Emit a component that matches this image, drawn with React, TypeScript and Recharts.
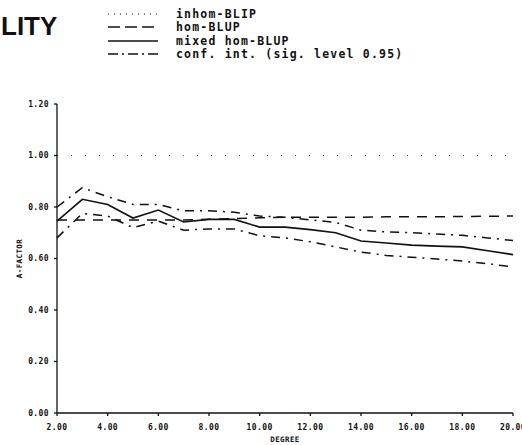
import React from 'react'
import { LineChart, Line, XAxis, YAxis, Label } from 'recharts'

const degrees = [2, 3, 4, 5, 6, 7, 8, 9, 10, 11, 12, 13, 14, 15, 16, 17, 18, 19, 20]
const inhomBlip = [1.0, 1.0, 1.0, 1.0, 1.0, 1.0, 1.0, 1.0, 1.0, 1.0, 1.0, 1.0, 1.0, 1.0, 1.0, 1.0, 1.0, 1.0, 1.0]
const homBlup = [0.75, 0.75, 0.75, 0.75, 0.75, 0.75, 0.752, 0.755, 0.758, 0.76, 0.76, 0.76, 0.76, 0.762, 0.762, 0.762, 0.763, 0.764, 0.765]
const mixedHomBlup = [0.745, 0.83, 0.81, 0.757, 0.788, 0.742, 0.752, 0.752, 0.722, 0.722, 0.712, 0.7, 0.668, 0.66, 0.652, 0.648, 0.645, 0.63, 0.615]
const confUpper = [0.8, 0.875, 0.84, 0.81, 0.81, 0.785, 0.785, 0.78, 0.765, 0.76, 0.75, 0.74, 0.71, 0.703, 0.7, 0.695, 0.69, 0.68, 0.67]
const confLower = [0.68, 0.775, 0.765, 0.72, 0.745, 0.71, 0.715, 0.715, 0.688, 0.68, 0.665, 0.645, 0.625, 0.612, 0.605, 0.598, 0.59, 0.58, 0.567]
const xTicks = [2, 4, 6, 8, 10, 12, 14, 16, 18, 20]
const yTicks = [0, 0.2, 0.4, 0.6, 0.8, 1.0, 1.2]

const data = degrees.map((d, i) => ({
  degree: d,
  inhom: inhomBlip[i],
  hom: homBlup[i],
  mixed: mixedHomBlup[i],
  upper: confUpper[i],
  lower: confLower[i],
}))

const LEGEND = [
  { label: 'inhom-BLIP', dash: '1 5', width: 1 },
  { label: 'hom-BLUP', dash: '12 5', width: 1.6 },
  { label: 'mixed hom-BLUP', dash: undefined, width: 1.6 },
  { label: 'conf. int. (sig. level 0.95)', dash: '10 4 2 4', width: 1.6 },
]

const tickFont = { fontFamily: 'DejaVu Sans Mono', fontSize: 8, fontWeight: 700, fill: '#111', letterSpacing: 0.4 }

export default function App() {
  return (
    <div style={{ position: 'absolute', left: 0, top: 0, width: 522, height: 445, background: '#fff' }}>
      <div
        style={{
          position: 'absolute',
          left: 1,
          top: 11,
          fontFamily: 'Liberation Sans',
          fontWeight: 700,
          fontSize: 26,
          color: '#111',
          lineHeight: '30px',
        }}
      >
        LITY
      </div>

      <div style={{ position: 'absolute', left: 108, top: 7 }}>
        {LEGEND.map((item) => (
          <div key={item.label} style={{ display: 'flex', alignItems: 'center', height: 13.5 }}>
            <svg width={52} height={8}>
              <line
                x1={0}
                y1={4}
                x2={50}
                y2={4}
                stroke="#111"
                strokeWidth={item.width}
                strokeDasharray={item.dash}
              />
            </svg>
            <span
              style={{
                marginLeft: 16,
                fontFamily: 'DejaVu Sans Mono',
                fontWeight: 700,
                fontSize: 11.5,
                letterSpacing: 1.2,
                color: '#111',
                whiteSpace: 'nowrap',
              }}
            >
              {item.label}
            </span>
          </div>
        ))}
      </div>

      <LineChart width={522} height={445} data={data} margin={{ top: 104, right: 9, left: 27, bottom: 8 }}>
        <XAxis
          dataKey="degree"
          type="number"
          domain={[2, 20]}
          ticks={xTicks}
          tickFormatter={(v: number) => v.toFixed(2)}
          stroke="#111"
          strokeWidth={1.3}
          tickSize={3}
          tickMargin={8}
          tick={tickFont}
          height={24}
          interval={0}
        >
          <Label value="DEGREE" position="insideBottom" offset={-5} style={{ ...tickFont, fontSize: 7.5 }} />
        </XAxis>
        <YAxis
          type="number"
          domain={[0, 1.2]}
          ticks={yTicks}
          tickFormatter={(v: number) => v.toFixed(2)}
          stroke="#111"
          strokeWidth={1.3}
          tickSize={3}
          tickMargin={5}
          tick={tickFont}
          width={30}
          interval={0}
        >
          <Label
            value="A-FACTOR"
            angle={-90}
            position="insideLeft"
            offset={-8}
            style={{ ...tickFont, fontSize: 7.5, textAnchor: 'middle' }}
          />
        </YAxis>
        <Line dataKey="inhom" stroke="#555" strokeWidth={1} strokeDasharray="1 13" dot={false} isAnimationActive={false} />
        <Line dataKey="hom" stroke="#111" strokeWidth={1.5} strokeDasharray="10 8" dot={false} isAnimationActive={false} />
        <Line dataKey="upper" stroke="#111" strokeWidth={1.5} strokeDasharray="9 6 2 6" dot={false} isAnimationActive={false} />
        <Line dataKey="lower" stroke="#111" strokeWidth={1.5} strokeDasharray="9 6 2 6" dot={false} isAnimationActive={false} />
        <Line dataKey="mixed" stroke="#111" strokeWidth={1.6} dot={false} isAnimationActive={false} />
      </LineChart>
    </div>
  )
}
